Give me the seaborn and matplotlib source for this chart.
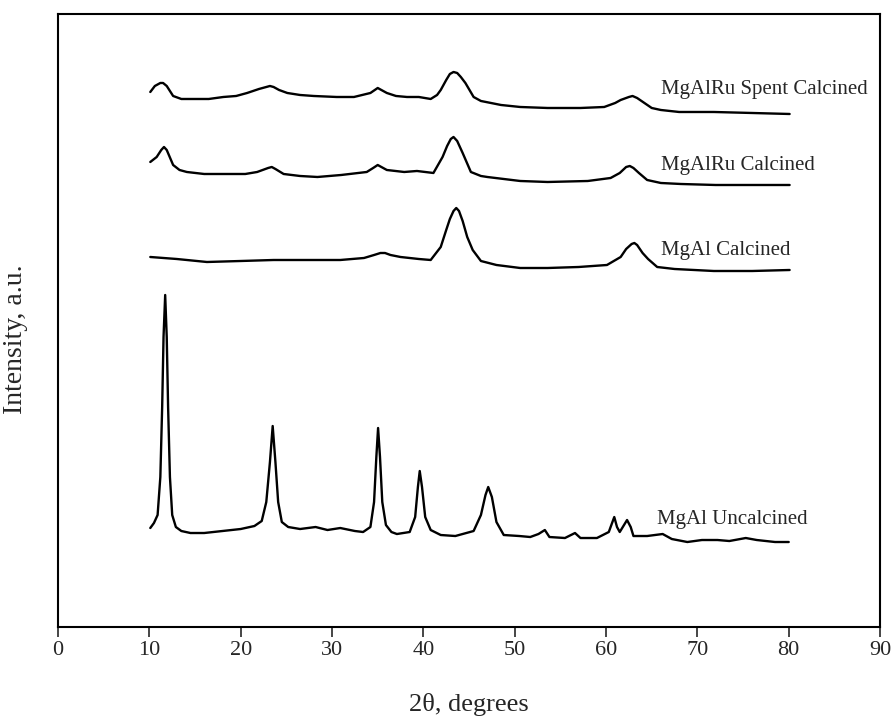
import pandas as pd
import matplotlib
matplotlib.use("Agg")
import matplotlib.pyplot as plt
import seaborn as sns

# XRD patterns (2theta in degrees, intensity in a.u.)
uncalcined_x = [10.1, 10.5, 10.9, 11.2, 11.4, 11.55, 11.73, 11.9, 12.05, 12.25, 12.5, 12.9,
                13.5, 14.5, 16.0, 18.0, 20.0, 21.5, 22.3, 22.8, 23.2, 23.5, 23.8, 24.1, 24.5,
                25.2, 26.5, 28.2, 29.5, 30.9, 32.5, 33.4, 34.2, 34.6, 34.85, 35.04, 35.25,
                35.5, 35.9, 36.5, 37.1, 38.5, 39.1, 39.4, 39.6, 39.85, 40.2, 40.8, 41.9,
                43.5, 45.5, 46.3, 46.8, 47.1, 47.5, 48.0, 48.8, 50.5, 51.7, 52.6, 53.3,
                53.8, 55.5, 56.6, 57.2, 59.0, 60.3, 60.9, 61.2, 61.5, 62.3, 62.7, 63.0,
                64.5, 66.2, 67.2, 68.9, 70.5, 72.2, 73.5, 75.3, 76.5, 78.5, 80.0]
uncalcined_y = [99, 104, 112, 150, 220, 290, 332, 290, 220, 150, 112, 100,
                96, 94, 94, 96, 98, 101, 106, 125, 165, 201, 165, 125, 105,
                100, 98, 100, 97, 99, 96, 95, 100, 125, 170, 199, 170,
                125, 102, 95, 93, 95, 110, 140, 156, 140, 110, 97, 92,
                91, 96, 112, 132, 140, 130, 105, 92, 91, 90, 93, 97,
                90, 89, 94, 89, 89, 95, 110, 100, 95, 107, 100, 91,
                91, 93, 88, 85, 87, 87, 86, 89, 87, 85, 85]

mgal_calc_x = [10.1, 13.0, 16.3, 20.0, 23.6, 27.0, 30.9, 33.5, 34.6, 35.3, 35.8, 36.4,
               37.5, 39.5, 40.8, 41.9, 42.5, 42.9, 43.3, 43.6, 43.9, 44.3, 44.8, 45.4,
               46.3, 48.0, 50.6, 53.6, 57.0, 60.1, 61.6, 62.2, 62.8, 63.1, 63.4, 64.0,
               64.6, 65.6, 67.5, 71.8, 76.0, 80.1]
mgal_calc_y = [370, 368, 365, 366, 367, 367, 367, 369, 372, 374, 374, 372,
               370, 368, 367, 380, 397, 408, 416, 419, 416, 406, 390, 377,
               366, 362, 359, 359, 360, 362, 370, 378, 383, 384, 382, 374,
               368, 360, 358, 356, 356, 357]

mgalru_calc_x = [10.1, 10.8, 11.3, 11.6, 11.9, 12.6, 13.3, 14.1, 16.0, 18.1, 20.5, 21.8,
                 23.0, 23.4, 23.8, 24.7, 26.5, 28.4, 31.0, 33.8, 34.5, 35.0, 35.4, 36.0,
                 37.9, 39.3, 41.1, 42.1, 42.6, 43.0, 43.3, 43.7, 44.3, 45.2, 46.3, 47.0,
                 50.6, 53.6, 58.0, 60.5, 61.5, 62.2, 62.6, 63.0, 63.6, 64.5, 66.0, 68.2,
                 72.0, 76.0, 80.1]
mgalru_calc_y = [465, 470, 477, 480, 477, 462, 457, 455, 453, 453, 453, 455,
                 459, 460, 458, 453, 451, 450, 452, 455, 459, 462, 460, 457,
                 455, 456, 454, 470, 481, 488, 490, 486, 474, 455, 451, 450,
                 446, 445, 446, 449, 454, 460, 461, 459, 454, 447, 444, 443,
                 442, 442, 442]

spent_x = [10.1, 10.6, 11.2, 11.5, 11.9, 12.6, 13.5, 14.8, 16.5, 18.1, 19.5, 20.7,
           22.0, 22.8, 23.2, 23.6, 24.2, 25.1, 26.5, 28.0, 30.5, 32.4, 34.2, 35.0,
           36.0, 37.0, 38.2, 39.5, 40.8, 41.5, 41.9, 42.5, 42.9, 43.3, 43.7, 44.1,
           44.6, 45.5, 46.3, 47.4, 48.5, 50.6, 53.6, 57.2, 59.8, 61.0, 61.6, 62.5,
           62.9, 63.4, 64.2, 65.0, 66.0, 68.0, 71.8, 76.0, 80.1]
spent_y = [535, 541, 544, 544, 541, 531, 528, 528, 528, 530, 531, 534,
           538, 540, 541, 540, 537, 534, 532, 531, 530, 530, 534, 539,
           534, 531, 530, 530, 528, 532, 537, 547, 553, 555, 554, 550,
           544, 530, 526, 524, 522, 520, 519, 519, 520, 524, 527, 530,
           531, 529, 524, 519, 517, 515, 515, 514, 513]

series_x = [uncalcined_x, mgal_calc_x, mgalru_calc_x, spent_x]
series_y = [uncalcined_y, mgal_calc_y, mgalru_calc_y, spent_y]
labels = ["MgAl Uncalcined", "MgAl Calcined", "MgAlRu Calcined", "MgAlRu Spent Calcined"]
label_x = [65.6, 66.0, 66.0, 66.0]
label_y = [108, 376, 461, 537]

sns.set_style("ticks")
plt.rcParams["font.family"] = ["Liberation Serif", "DejaVu Serif"]

fig = plt.figure(figsize=(8.93, 7.17), dpi=100)
ax = fig.add_axes([0.065, 0.1255, 0.9205, 0.855])

for xs, ys in zip(series_x, series_y):
    df = pd.DataFrame({"two_theta": xs, "intensity": ys})
    sns.lineplot(data=df, x="two_theta", y="intensity", color="black", linewidth=1.7, ax=ax)

for txt, tx, ty in zip(labels, label_x, label_y):
    ax.text(tx, ty, txt, fontsize=15, va="center", ha="left")

ax.set_xlim(0, 90)
ax.set_ylim(0, 613)
ax.set_xticks(range(0, 91, 10))
ax.set_yticks([])
ax.tick_params(axis="x", direction="out", length=7, width=1.2, labelsize=16, pad=3)
for sp in ax.spines.values():
    sp.set_visible(True)
    sp.set_linewidth(1.5)
    sp.set_color("black")

ax.set_xlabel("2θ, degrees", fontsize=19, labelpad=24)
ax.set_ylabel("Intensity, a.u.", fontsize=20)
ax.yaxis.set_label_coords(-0.036, 0.47)

fig.savefig("out.png", dpi=100)
